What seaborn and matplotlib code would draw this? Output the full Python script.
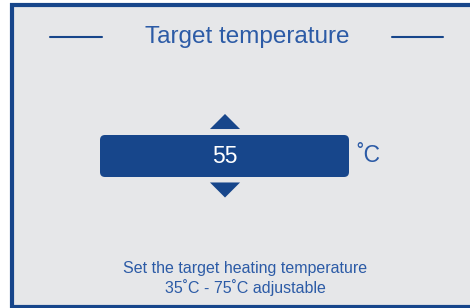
import matplotlib
matplotlib.use("Agg")
import matplotlib.pyplot as plt
import seaborn as sns
import pandas as pd
from matplotlib.patches import FancyBboxPatch

sns.set_theme(style="white")
plt.rcParams['font.family'] = ['Liberation Sans', 'DejaVu Sans']

# panel content
title = "Target temperature"
target_value = 55
unit = "˚C"
range_min = 35
range_max = 75
hint_line1 = "Set the target heating temperature"
hint_line2 = f"{range_min}˚C - {range_max}˚C adjustable"

# arrow buttons (up / down)
arrows = pd.DataFrame({
    'x': [225, 225],
    'y': [121.5, 190],
    'dir': ['up', 'down'],
})

BLUE = '#17468b'
TEXT_BLUE = '#2c5ba6'
BG = '#e6e7e9'

# flat triangles (twice as wide as tall)
up_marker = [(0, 0.5), (-1, -0.5), (1, -0.5), (0, 0.5)]
down_marker = [(0, -0.5), (-1, 0.5), (1, 0.5), (0, -0.5)]

fig = plt.figure(figsize=(4.7, 3.08), dpi=100)
ax = fig.add_axes([0, 0, 1, 1])
fig.patch.set_facecolor('white')

# panel background and frame
ax.add_patch(plt.Rectangle((10, 3), 470, 305, facecolor=BG, edgecolor='none', zorder=0))
ax.plot([11.5, 11.5], [3, 308], color=BLUE, lw=3, solid_capstyle='butt', zorder=1)
ax.plot([10, 470], [4.5, 4.5], color=BLUE, lw=3, solid_capstyle='butt', zorder=1)
ax.plot([10, 470], [306.5, 306.5], color=BLUE, lw=3, solid_capstyle='butt', zorder=1)

# title with side rules
ax.text(247, 37, title, color=TEXT_BLUE, fontsize=17.5, ha='center', va='center')
ax.plot([50, 102], [37, 37], color=BLUE, lw=1.5)
ax.plot([392, 443], [37, 37], color=BLUE, lw=1.5)

# value box
ax.add_patch(FancyBboxPatch((104, 139), 241, 34, boxstyle="round,pad=4,rounding_size=5",
                            facecolor=BLUE, edgecolor='none', zorder=2))
ax.text(225, 156.5, str(target_value), color='white', fontsize=16.5, ha='center', va='center', zorder=3)
ax.text(356, 156, unit, color=TEXT_BLUE, fontsize=16.5, ha='left', va='center')

sns.scatterplot(data=arrows, x='x', y='y', style='dir',
                markers={'up': up_marker, 'down': down_marker},
                s=470, color=BLUE, edgecolor='none', linewidth=0, legend=False, ax=ax, zorder=3)

# hint text
ax.text(245, 269, hint_line1, color=TEXT_BLUE, fontsize=11.5, ha='center', va='center')
ax.text(245, 288, hint_line2, color=TEXT_BLUE, fontsize=11.5, ha='center', va='center')

ax.set_xlim(0, 470)
ax.set_ylim(308, 0)
ax.axis('off')

fig.savefig('out.png', dpi=100, facecolor='white')
